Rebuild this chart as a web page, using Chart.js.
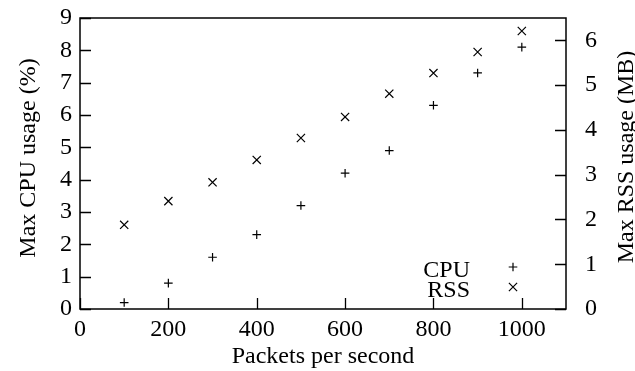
<!DOCTYPE html>
<html>
<head>
<meta charset="utf-8">
<script src="https://cdn.jsdelivr.net/npm/chart.js@4/dist/chart.umd.min.js"></script>
<style>
  html, body { margin: 0; padding: 0; background: #fff; }
  #wrap { width: 635px; height: 371px; position: relative; }
</style>
</head>
<body>
<div id="wrap"><canvas id="chart"></canvas></div>
<script>
// data
const packets = [100, 200, 300, 400, 500, 600, 700, 800, 900, 1000];
const cpuUsage = [0.2, 0.8, 1.6, 2.3, 3.2, 4.2, 4.9, 6.3, 7.3, 8.1];
const rssUsage = [1.88, 2.41, 2.83, 3.33, 3.82, 4.29, 4.81, 5.27, 5.74, 6.21];
const xTicks = [0, 200, 400, 600, 800, 1000];
const cpuTicks = [0, 1, 2, 3, 4, 5, 6, 7, 8, 9];
const rssTicks = [0, 1, 2, 3, 4, 5, 6];

const serif = '"Liberation Serif", "DejaVu Serif", serif';
const tickFont = { family: serif, size: 24 };

function toPoints(xs, ys) {
    return xs.map((x, i) => ({ x: x, y: ys[i] }));
}

// keep the plot box where the reference has it
function fitY(width) {
    return s => {
        s.width = width;
        s.paddingTop = 0;
        s.paddingBottom = 0;
    };
}

// gnuplot style frame + inward ticks
const framePlugin = {
    id: 'frame',
    afterDraw(chart) {
        const ctx = chart.ctx;
        const a = chart.chartArea;
        const tick = 11;
        ctx.save();
        ctx.strokeStyle = '#000';
        ctx.lineWidth = 1.3;
        ctx.beginPath();
        xTicks.forEach(v => {
            const px = Math.round(chart.scales.x.getPixelForValue(v)) + 0.5;
            ctx.moveTo(px, a.bottom);
            ctx.lineTo(px, a.bottom - tick);
        });
        cpuTicks.forEach(v => {
            const py = Math.round(chart.scales.y.getPixelForValue(v)) + 0.5;
            ctx.moveTo(a.left, py);
            ctx.lineTo(a.left + tick, py);
        });
        rssTicks.forEach(v => {
            const py = Math.round(chart.scales.y2.getPixelForValue(v)) + 0.5;
            ctx.moveTo(a.right, py);
            ctx.lineTo(a.right - tick, py);
        });
        ctx.stroke();
        ctx.lineWidth = 1.5;
        ctx.strokeRect(a.left, a.top, a.right - a.left, a.bottom - a.top);

        // both y titles read bottom to top, like gnuplot
        ctx.font = '24px ' + serif;
        ctx.fillStyle = '#000';
        ctx.textAlign = 'center';
        ctx.textBaseline = 'alphabetic';
        [['Max CPU usage (%)', 35, 158], ['Max RSS usage (MB)', 633, 157]].forEach(t => {
            ctx.save();
            ctx.translate(t[1], t[2]);
            ctx.rotate(-Math.PI / 2);
            ctx.fillText(t[0], 0, 0);
            ctx.restore();
        });
        ctx.restore();
    }
};

// legend in the lower right, text then sample marker
const keyPlugin = {
    id: 'key',
    afterDraw(chart) {
        const ctx = chart.ctx;
        const a = chart.chartArea;
        const textRight = a.right - 96;
        const markX = a.right - 53;
        ctx.save();
        ctx.font = '24px ' + serif;
        ctx.fillStyle = '#000';
        ctx.textAlign = 'right';
        ctx.textBaseline = 'alphabetic';
        chart.data.datasets.forEach((ds, i) => {
            ctx.fillText(ds.label, textRight, a.bottom - 32 + i * 20);
            ctx.strokeStyle = '#000';
            ctx.lineWidth = 1.2;
            Chart.helpers.drawPoint(ctx, {
                pointStyle: ds.pointStyle,
                radius: ds.pointRadius,
                rotation: 0,
                borderWidth: 1.2
            }, markX, a.bottom - 42 + i * 20);
        });
        ctx.restore();
    }
};

new Chart(document.getElementById('chart'), {
    type: 'scatter',
    data: {
        datasets: [
            {
                label: 'CPU',
                data: toPoints(packets, cpuUsage),
                yAxisID: 'y',
                pointStyle: 'cross',
                pointRadius: 4.3,
                pointBorderWidth: 1.2,
                borderColor: '#000',
                backgroundColor: '#000'
            },
            {
                label: 'RSS',
                data: toPoints(packets, rssUsage),
                yAxisID: 'y2',
                pointStyle: 'crossRot',
                pointRadius: 5.8,
                pointBorderWidth: 1.2,
                borderColor: '#000',
                backgroundColor: '#000'
            }
        ]
    },
    options: {
        responsive: true,
        maintainAspectRatio: false,
        animation: false,
        layout: { padding: { top: 18, left: 0, right: 0, bottom: 0 } },
        plugins: {
            legend: { display: false },
            tooltip: { enabled: false }
        },
        scales: {
            x: {
                type: 'linear',
                min: 0,
                max: 1100,
                afterBuildTicks: s => { s.ticks = xTicks.map(v => ({ value: v })); },
                afterFit: s => { s.height = 62; s.paddingLeft = 0; s.paddingRight = 0; },
                grid: { display: false, drawTicks: false },
                border: { display: false },
                ticks: { font: tickFont, color: '#000', padding: 6, maxRotation: 0, autoSkip: false, callback: v => String(v) },
                title: {
                    display: true,
                    text: 'Packets per second',
                    font: tickFont,
                    color: '#000',
                    padding: { top: 0, bottom: 0 }
                }
            },
            y: {
                type: 'linear',
                position: 'left',
                min: 0,
                max: 9,
                afterBuildTicks: s => { s.ticks = cpuTicks.map(v => ({ value: v })); },
                afterFit: fitY(80),
                grid: { display: false, drawTicks: false },
                border: { display: false },
                ticks: { font: tickFont, color: '#000', padding: 8, autoSkip: false, callback: v => String(v) }
            },
            y2: {
                type: 'linear',
                position: 'right',
                min: 0,
                max: 6.5,
                afterBuildTicks: s => { s.ticks = rssTicks.map(v => ({ value: v })); },
                afterFit: fitY(69),
                grid: { display: false, drawTicks: false },
                border: { display: false },
                ticks: { font: tickFont, color: '#000', padding: 19, autoSkip: false, callback: v => String(v) }
            }
        }
    },
    plugins: [framePlugin, keyPlugin]
});
</script>
</body>
</html>
